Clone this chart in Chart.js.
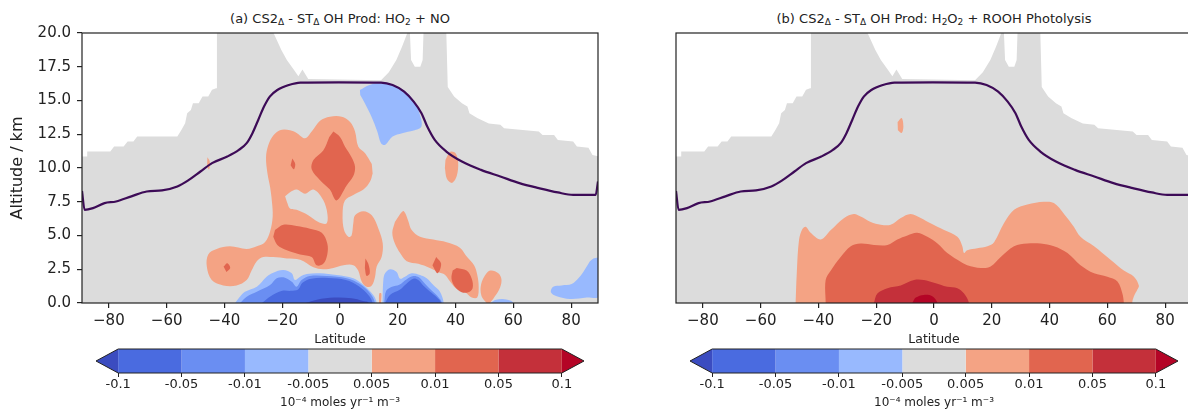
<!DOCTYPE html>
<html>
<head>
<meta charset="utf-8">
<title>CS2 - ST OH production</title>
<script src="https://cdn.jsdelivr.net/npm/chart.js@4.4.1/dist/chart.umd.min.js"></script>
<style>
  html, body { margin: 0; padding: 0; background: #fff; }
  body { position: relative; width: 1188px; height: 415px; overflow: hidden; font-family: 'DejaVu Sans', sans-serif; }
  canvas { position: absolute; }
  .ttl { position: absolute; top: 11px; height: 16px; line-height: 16px; font-size: 13px; color: #222; text-align: center; white-space: nowrap; }
  .ttl sub { font-size: 9px; vertical-align: -2px; line-height: 0; }
</style>
</head>
<body>
<div class="ttl" style="left:82px;width:516px">(a) CS2<sub>Δ</sub> - ST<sub>Δ</sub> OH Prod: HO<sub>2</sub> + NO</div>
<div class="ttl" style="left:676px;width:516px">(b) CS2<sub>Δ</sub> - ST<sub>Δ</sub> OH Prod: H<sub>2</sub>O<sub>2</sub> + ROOH Photolysis</div>
<canvas id="panelA" width="600" height="350" style="left:0;top:0"></canvas>
<canvas id="panelB" width="600" height="350" style="left:600px;top:0"></canvas>
<canvas id="barA" width="600" height="70" style="left:0;top:345px"></canvas>
<canvas id="barB" width="600" height="70" style="left:594px;top:345px"></canvas>
<script>
// contour levels, 10^-4 moles yr-1 m-3 (coolwarm, extended both ends)
var levels = ['-0.1', '-0.05', '-0.01', '-0.005', '0.005', '0.01', '0.05', '0.1'];
var levelColors = ['#3b4cc0', '#4a6be0', '#6a8ef2', '#98b9fe', '#dcdcdc', '#f4a384', '#e1654f', '#c4303a', '#b40426'];
var latTicks = [-80, -60, -40, -20, 0, 20, 40, 60, 80];
var altTicks = [0, 2.5, 5, 7.5, 10, 12.5, 15, 17.5, 20];

// top of the valid data (white above), same in both panels
var dataTop = [[-89.5,10.85],[-87.5,10.85],[-87.5,11.22],[-79.5,11.22],[-78.2,11.59],[-74.9,11.59],[-73.5,11.96],
  [-71.5,11.96],[-70.2,12.33],[-56.3,12.33],[-54.9,12.82],[-53.6,13.32],[-52.9,14.06],[-51.6,14.3],[-50.9,14.8],
  [-48.9,14.8],[-47.6,15.3],[-45.6,15.3],[-44.3,15.8],[-42.9,15.9],[-42.6,20],[-23.0,20],[-20.3,18.74],[-18.4,18.0],
  [-16.4,17.4],[-14.4,16.8],[-13.0,17.3],[-11.0,16.6],[14.2,16.5],[16.9,17.1],[19.5,18.0],[21.5,19.0],[23.3,20],
  [24.2,20],[24.6,18.0],[25.9,17.5],[27.8,17.5],[28.6,18.0],[28.9,20],[36.8,20],[37.3,16.0],[39.5,15.3],[42.2,14.8],
  [44.1,14.55],[44.8,14.06],[47.5,13.7],[51.5,13.3],[55.5,13.2],[56.8,12.95],[68.8,12.7],[70.1,12.45],[74.1,12.45],
  [75.4,12.08],[80.7,11.96],[82.0,11.6],[86.0,11.5],[87.4,10.97],[89.5,10.85]];

// tropopause height
var tropopause = [[-89.3,8.3],[-88.4,6.9],[-85.5,7.03],[-81.5,7.4],[-77.5,7.52],[-72.2,7.9],[-66.9,8.26],[-61.6,8.34],
  [-56.3,8.63],[-52.3,9.12],[-48.3,9.74],[-44.3,10.36],[-39.0,10.85],[-35.0,11.34],[-32.3,11.84],[-30.3,12.58],
  [-28.3,13.56],[-26.3,14.55],[-24.3,15.29],[-21.7,15.78],[-17.7,16.15],[-13.7,16.33],[-0.4,16.35],[14.2,16.33],
  [18.2,16.15],[22.2,15.66],[25.5,14.92],[28.2,14.06],[30.2,13.07],[32.8,12.08],[36.8,11.22],[42.2,10.48],
  [48.8,9.86],[55.5,9.37],[62.1,8.88],[68.8,8.51],[75.4,8.19],[80.7,8.01],[88.5,8.01],[89.3,9.0]];

// panel (a): HO2 + NO contours [lat, alt]
var aBlueTop = [[6.9,15.78],[10.2,16.15],[14.2,16.28],[20.9,15.9],[25.5,15.0],[27.5,14.06],[28.2,13.07],[25.5,12.77],
  [21.5,12.58],[18.2,12.33],[15.6,11.71],[14.2,11.84],[12.9,12.7],[10.9,13.8],[8.6,14.8],[7.0,15.4]];
var aSalmon = [[11.3,9.6],[10.4,9.0],[8.1,8.4],[4.6,8.0],[1.7,7.6],[0.9,6.6],[1.4,5.4],[2.9,4.9],[4.0,5.0],[4.6,5.9],
  [5.2,6.5],[8.1,6.8],[11.0,6.5],[13.3,5.5],[14.8,4.4],[14.4,3.4],[12.7,2.7],[12.1,1.9],[11.0,1.3],[9.2,1.2],[7.5,1.6],
  [6.3,2.4],[4.6,2.8],[1.2,2.8],[-2.3,2.6],[-5.8,2.5],[-9.2,2.65],[-13.8,3.2],[-18.4,3.3],[-23.1,3.4],[-26.5,3.4],
  [-28.8,3.1],[-30.6,2.4],[-32.3,1.7],[-35.8,1.3],[-40.4,1.3],[-44.4,1.7],[-46.1,2.7],[-45.6,3.6],[-42.7,4.0],
  [-38.1,4.2],[-32.3,4.0],[-28.8,4.2],[-26.0,4.5],[-24.2,5.3],[-23.3,6.4],[-23.6,7.6],[-24.2,8.6],[-25.1,9.6],
  [-25.6,10.8],[-24.8,11.7],[-23.1,12.4],[-20.8,12.8],[-17.3,12.8],[-15.0,12.6],[-12.1,12.2],[-9.8,12.7],[-6.9,13.5],
  [-3.5,13.8],[0.6,13.8],[3.5,13.4],[5.2,12.7],[6.3,11.6],[8.7,11.1],[11.0,10.3]];
var aHole = [[-19.0,7.9],[-17.3,8.2],[-15.0,8.4],[-12.1,8.1],[-9.2,8.4],[-6.3,7.8],[-4.6,6.9],[-4.6,5.9],[-7.5,6.0],
  [-11.0,6.5],[-15.0,6.9],[-17.3,7.0],[-18.4,7.5]];
var aRedTop = [[-2.3,12.7],[0,12.3],[1.7,11.6],[4.0,10.8],[5.2,10.1],[4.6,9.4],[2.3,8.7],[-1.2,7.6],[-3.5,8.4],
  [-6.9,9.1],[-9.8,9.9],[-9.2,10.6],[-5.8,11.3],[-3.7,12.3]];
var aRedLow = [[-22.5,5.4],[-19.6,5.8],[-15.0,5.7],[-10.4,5.5],[-6.3,5.2],[-4.4,4.4],[-4.4,3.6],[-5.8,2.9],[-8.1,2.8],
  [-9.8,3.4],[-13.8,3.6],[-18.4,3.9],[-21.7,4.3],[-23.1,4.9]];
var aRedDot1 = [[-16.5,10.7],[-15.5,10.3],[-16.0,9.9],[-17.1,10.2]];
var aRedDot2 = [[-40.3,2.7],[-39.0,2.95],[-38.0,2.6],[-39.3,2.3]];
var aRedDot3 = [[8.8,3.3],[9.8,2.9],[10.3,2.2],[9.2,2.0],[8.6,2.6]];
var aSpotW = [[-45.9,10.8],[-45.1,10.5],[-45.3,9.9],[-46.0,10.1]];
var aSpotE = [[36.5,10.6],[38.2,11.2],[40.0,11.1],[40.9,10.4],[40.4,9.4],[38.8,8.9],[37.0,9.2],[36.3,10.0]];
var aSalmonE = [[20.8,6.6],[22.1,6.8],[23.6,6.1],[24.8,5.4],[27.7,4.9],[32.3,4.7],[36.9,4.5],[41.5,4.1],[44.0,3.4],
  [46.4,2.8],[47.5,2.1],[48.0,1.2],[47.5,0.4],[45.6,0.4],[43.3,0.8],[40.1,1.1],[38.1,1.6],[36.3,2.1],[34.0,2.3],
  [31.1,2.6],[27.1,2.9],[23.1,3.1],[20.8,3.7],[19.0,4.4],[18.1,5.2],[19.0,6.0]];
var aRedE1 = [[33.3,3.4],[35.0,2.9],[33.8,2.2],[32.0,2.8]];
var aRedE2 = [[40.4,2.6],[43.8,2.4],[45.6,1.8],[45.9,1.1],[44.4,0.8],[42.1,0.8],[39.8,1.2],[38.6,1.8],[39.0,2.4]];
var aSalmonE2 = [[50.7,0],[49.0,0.5],[48.7,1.2],[49.8,1.9],[51.9,2.4],[54.8,2.2],[55.9,1.7],[55.1,1.0],[53.0,0.3],[52.0,0]];
var aSalmonTiny = [[13.5,0],[13.6,0.7],[14.3,0.7],[14.2,0]];
var aBlueW1 = [[-36.3,0],[-34.5,0.5],[-32.9,0.84],[-28.8,1.21],[-25.4,1.95],[-23.1,2.25],[-19.6,2.44],[-16.7,2.2],
  [-15.6,1.7],[-13.8,1.95],[-11.5,2.15],[-6.9,2.2],[-1.2,2.07],[4.6,1.83],[8.1,1.33],[11.5,0.59],[12.7,0]];
var aBlueW2 = [[-34.6,0],[-32.3,0.47],[-28.8,0.84],[-24.2,1.33],[-21.9,1.83],[-19.6,1.9],[-16.7,1.58],[-15.0,1.21],
  [-13.3,1.7],[-10.4,2.0],[-4.6,2.0],[2.3,1.83],[6.9,1.4],[10.4,0.72],[12.1,0]];
var aBlueW3 = [[-27,0],[-24,0.5],[-20,0.9],[-17,0.9],[-14.5,1.0],[-13,1.5],[-10,1.8],[-4,1.85],[2,1.7],[6.5,1.25],
  [9.8,0.6],[11.3,0]];
var aBlueW4 = [[-12,0],[-8,0.25],[-2,0.4],[4,0.35],[8,0.15],[10,0]];
var aBlueM1 = [[14.7,0],[15.0,1.7],[15.6,2.2],[17.3,2.5],[19.6,2.3],[20.8,1.8],[22.5,1.95],[24.8,2.2],[27.7,2.07],
  [30.0,1.83],[32.3,1.33],[34.6,0.84],[35.9,0]];
var aBlueM2 = [[15.3,0],[16.0,0.9],[18.0,1.2],[20.5,1.35],[23.0,1.75],[25.4,2.0],[27.3,1.9],[29.5,1.4],[31.8,0.9],
  [34.0,0.45],[35.3,0]];
var aBlueM3 = [[15.6,0],[17.3,0.6],[20.8,1.0],[23.1,1.45],[25.4,1.8],[27.1,1.7],[28.8,1.3],[31.1,0.85],[33.4,0.45],[35.0,0]];
var aBlueE = [[87.7,3.3],[89.5,3.3],[89.5,0.5],[85.4,0.4],[79.6,0.3],[75.0,0.5],[73.0,0.8],[73.8,1.2],[76.7,1.3],
  [80.2,1.4],[82.8,1.9],[84.8,2.5],[86.5,3.1]];
var aBlueSmall = [[52,0],[54,0.25],[58,0.25],[60,0]];

// panel (b): H2O2 + ROOH photolysis contours
var bSpot = [[-12.6,13.4],[-11.2,13.7],[-10.6,13.1],[-11.2,12.6],[-12.5,12.8]];
var bSalmon = [[-47.9,0],[-47.5,2.2],[-46.7,4.7],[-45.5,5.5],[-44.4,5.65],[-42.7,5.2],[-39.2,4.7],[-35.7,5.4],
  [-31.1,6.3],[-27.7,6.6],[-25.4,6.4],[-21.9,6.0],[-18.4,5.8],[-15.0,5.8],[-11.5,6.3],[-8.1,6.6],[-4.6,6.3],[-1.2,5.9],
  [3.5,5.4],[8.1,4.9],[9.8,4.2],[10.4,3.7],[11.5,3.9],[15.0,4.05],[18.5,4.2],[20.8,4.5],[24.2,5.9],[27.7,6.9],
  [32.3,7.3],[38.1,7.5],[41.5,7.4],[45.0,6.6],[48.4,5.65],[50.7,4.9],[55.4,4.2],[61.1,3.2],[65.7,2.4],[69.2,1.95],
  [70.9,1.3],[70.4,1.0],[69.2,0.5],[68.6,0]];
var bRed = [[-37.5,0],[-37.5,1.7],[-35.7,2.4],[-32.3,3.4],[-28.8,4.2],[-25.4,4.4],[-20.8,4.3],[-16.1,4.3],[-12.7,4.7],
  [-9.2,5.0],[-5.8,5.2],[-2.3,4.9],[1.2,4.4],[4.6,3.7],[8.1,3.2],[11.5,2.8],[16.2,2.6],[19.6,2.7],[23.1,3.4],[27.7,4.2],
  [32.3,4.4],[36.9,4.4],[41.5,4.2],[46.2,3.7],[50.7,2.8],[55.4,2.2],[60.0,1.95],[63.5,1.6],[65.2,0.7],[65.7,0]];
var bDark = [[-20.8,0],[-19.6,0.7],[-16.1,1.1],[-11.5,1.3],[-6.9,1.7],[-3.5,1.7],[0,1.5],[4.6,1.2],[8.1,1.1],[10.4,0.7],[12.1,0]];
var bCore = [[-7.5,0],[-6.3,0.4],[-3.5,0.6],[-0.6,0.5],[1.2,0]];

// paint order, bottom first: [level index, outline]
var regionsA = [[3, aBlueTop], [5, aSalmon], [4, aHole], [6, aRedTop], [6, aRedLow], [6, aRedDot1], [6, aRedDot2],
  [6, aRedDot3], [5, aSpotW], [5, aSpotE], [5, aSalmonE], [6, aRedE1], [6, aRedE2], [5, aSalmonE2], [5, aSalmonTiny],
  [3, aBlueW1], [2, aBlueW2], [1, aBlueW3], [0, aBlueW4], [3, aBlueM1], [2, aBlueM2], [1, aBlueM3], [3, aBlueE],
  [3, aBlueSmall]];
var regionsB = [[5, bSpot], [5, bSalmon], [6, bRed], [7, bDark], [8, bCore]];

Chart.defaults.font.family = "'DejaVu Sans', sans-serif";
Chart.defaults.color = '#222';

function xy(pts) {
  return pts.map(function(p) { return {x: p[0], y: p[1]}; });
}

// outlines that sit on the ground are closed below the axis
function outline(pts) {
  var out = xy(pts);
  var a = pts[0], b = pts[pts.length - 1];
  if (a[1] === 0 && b[1] === 0) out.push({x: b[0], y: -1}, {x: a[0], y: -1});
  return out;
}

var frame = {
  id: 'frame',
  afterDatasetsDraw: function(chart) {
    var ctx = chart.ctx, a = chart.chartArea;
    ctx.save();
    ctx.strokeStyle = '#222';
    ctx.lineWidth = 1.2;
    ctx.strokeRect(a.left, a.top, a.right - a.left, a.bottom - a.top);
    ctx.restore();
  }
};

function panel(id, regions, showY, yWidth, padRight) {
  var domain = xy(dataTop);
  domain.push({x: dataTop[dataTop.length - 1][0], y: -1}, {x: dataTop[0][0], y: -1});
  var sets = [{data: domain, backgroundColor: levelColors[4], tension: 0}];
  regions.forEach(function(r) {
    sets.push({data: outline(r[1]), backgroundColor: levelColors[r[0]], tension: 0.35});
  });
  var n = sets.length;
  var datasets = sets.map(function(s, i) {
    return Object.assign({fill: 'shape', borderWidth: 0, pointRadius: 0, order: n + 1 - i}, s);
  });
  datasets.push({
    data: xy(tropopause), fill: false, borderColor: '#3d0b57', borderWidth: 2.2,
    pointRadius: 0, cubicInterpolationMode: 'monotone', order: 0
  });

  return new Chart(document.getElementById(id), {
    type: 'line',
    data: {datasets: datasets},
    options: {
      responsive: false,
      animation: false,
      events: [],
      layout: {padding: {top: 33, right: padRight}},
      plugins: {legend: {display: false}, tooltip: {enabled: false}},
      scales: {
        x: {
          type: 'linear', min: -89.3, max: 89.3,
          afterBuildTicks: function(s) { s.ticks = latTicks.map(function(v) { return {value: v}; }); },
          afterFit: function(s) { s.height = 47; },
          ticks: {
            font: {size: 15}, padding: 4, maxRotation: 0, autoSkip: false,
            callback: function(v) { return v < 0 ? '\u2212' + (-v) : String(v); }
          },
          grid: {drawOnChartArea: false, tickLength: 5, tickColor: '#222', lineWidth: 1.2},
          border: {display: false},
          title: {display: true, text: 'Latitude', font: {size: 12.5}, padding: {top: 0, bottom: 3}}
        },
        y: {
          min: 0, max: 20,
          afterBuildTicks: function(s) { s.ticks = altTicks.map(function(v) { return {value: v}; }); },
          afterFit: function(s) { s.width = yWidth; },
          ticks: {display: showY, font: {size: 15}, padding: 6, callback: function(v) { return v.toFixed(1); }},
          grid: {display: showY, drawOnChartArea: false, tickLength: 5, tickColor: '#222', lineWidth: 1.2},
          border: {display: false},
          title: {display: showY, text: 'Altitude / km', font: {size: 16}, padding: {top: 8}}
        }
      }
    },
    plugins: [frame]
  });
}

function colorbar(id) {
  var tip = 0.35, n = levels.length - 1;
  var datasets = levelColors.map(function(c, i) {
    var s;
    if (i === 0) s = [[-tip, 0.5], [0, 0], [0, 1]];
    else if (i === n + 1) s = [[n, 0], [n + tip, 0.5], [n, 1]];
    else s = [[i - 1, 0], [i, 0], [i, 1], [i - 1, 1]];
    return {data: xy(s), fill: 'shape', backgroundColor: c, borderWidth: 0, pointRadius: 0, clip: false, order: 2};
  });
  datasets.push({
    data: xy([[-tip, 0.5], [0, 0], [n, 0], [n + tip, 0.5], [n, 1], [0, 1], [-tip, 0.5]]),
    fill: false, borderColor: '#222', borderWidth: 1, pointRadius: 0, clip: false, order: 0
  });

  return new Chart(document.getElementById(id), {
    type: 'line',
    data: {datasets: datasets},
    options: {
      responsive: false,
      animation: false,
      events: [],
      layout: {padding: {top: 4, left: 96, right: 16}},
      plugins: {legend: {display: false}, tooltip: {enabled: false}},
      scales: {
        x: {
          type: 'linear', min: -tip, max: n + tip,
          afterBuildTicks: function(s) { s.ticks = levels.map(function(l, i) { return {value: i}; }); },
          afterFit: function(s) { s.height = 42; },
          ticks: {
            font: {size: 13}, padding: 0, maxRotation: 0, autoSkip: false,
            callback: function(v) { return levels[v]; }
          },
          grid: {drawOnChartArea: false, tickLength: 4, tickColor: '#222'},
          border: {display: false},
          title: {display: true, text: '10\u207B\u2074 moles yr\u207B\u00B9 m\u207B\u00B3', font: {size: 12}, padding: {top: 0, bottom: 5}}
        },
        y: {display: false, min: 0, max: 1}
      }
    }
  });
}

panel('panelA', regionsA, true, 82, 2);
panel('panelB', regionsB, false, 76, 8);
colorbar('barA');
colorbar('barB');
</script>
</body>
</html>
